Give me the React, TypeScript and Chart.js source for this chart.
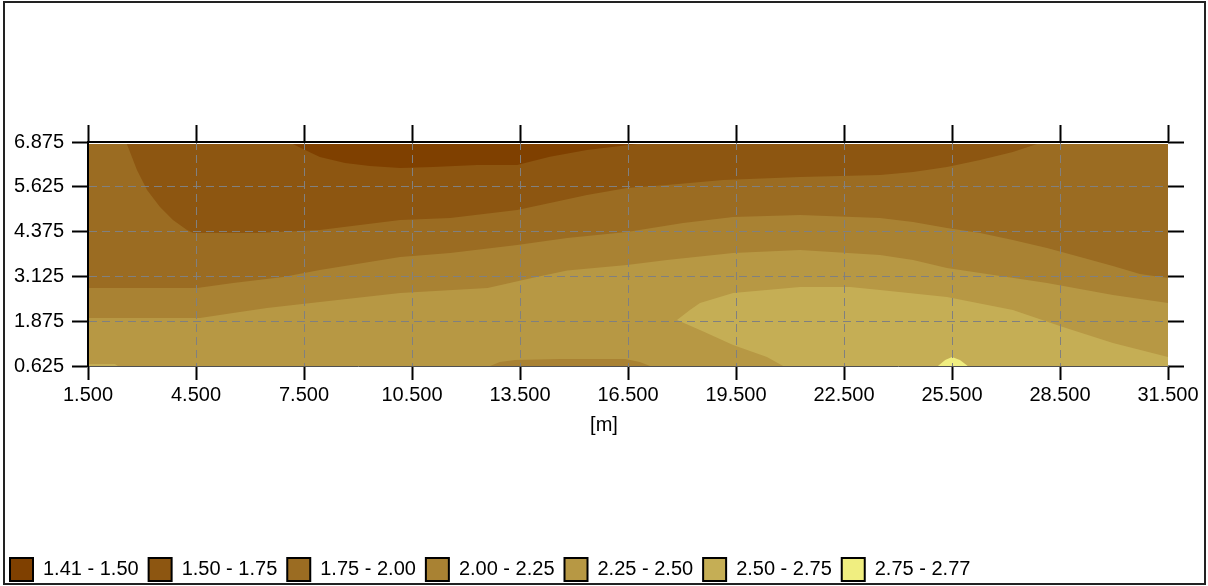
import React, { useEffect, useRef } from 'react';
import { Chart, registerables } from 'chart.js';

Chart.register(...registerables);

const FONT = "'Liberation Sans', Arial, sans-serif";

// Contour bands (legend)
const BAND_LABELS = ['1.41 - 1.50', '1.50 - 1.75', '1.75 - 2.00', '2.00 - 2.25', '2.25 - 2.50', '2.50 - 2.75', '2.75 - 2.77'];
const BAND_COLORS = ['#7f4000', '#8d5611', '#9b6c22', '#a98233', '#b79844', '#c5ae55', '#f0ee80'];

// Axes
const X_TICKS = [1.5, 4.5, 7.5, 10.5, 13.5, 16.5, 19.5, 22.5, 25.5, 28.5, 31.5];
const X_TICK_LABELS = ['1.500', '4.500', '7.500', '10.500', '13.500', '16.500', '19.500', '22.500', '25.500', '28.500', '31.500'];
const Y_TICKS = [0.625, 1.875, 3.125, 4.375, 5.625, 6.875];
const Y_TICK_LABELS = ['0.625', '1.875', '3.125', '4.375', '5.625', '6.875'];
const X_TITLE = '[m]';
const X_MIN = 1.5;
const X_MAX = 31.5;
const Y_MIN = 0.625;
const Y_MAX = 6.875;
const DATA_TOP = 6.82; // top of the interpolated section

// Contour boundaries [x (m), depth value]
// region above each "EDGE" belongs to the band named
const BASE_225_250: [number, number][] = [[1.5, 0.625], [31.5, 0.625]];
const EDGE_200_225: [number, number][] = [
  [1.5, 1.964], [4.61, 1.964], [5.53, 2.104], [6.47, 2.243], [7.94, 2.411], [10.17, 2.662],
  [12.6, 2.8], [13.86, 3.09], [14.81, 3.29], [16.47, 3.443], [17.58, 3.583], [19.42, 3.778],
  [21.28, 3.862], [23.5, 3.722], [24.42, 3.583], [25.36, 3.36], [28.14, 2.941], [29.97, 2.606], [31.5, 2.383],
];
const EDGE_175_200: [number, number][] = [
  [1.5, 2.801], [4.53, 2.801], [5.53, 2.941], [6.92, 3.108], [7.94, 3.304], [10.17, 3.667],
  [11.56, 3.778], [13.42, 4.001], [14.81, 4.197], [16.47, 4.364], [18.03, 4.615], [19.42, 4.783],
  [21.28, 4.838], [23.5, 4.754], [24.42, 4.643], [25.36, 4.475], [26.28, 4.336], [27.19, 4.141],
  [28.14, 3.917], [29.06, 3.666], [29.97, 3.415], [30.72, 3.192], [31.5, 3.08],
];
const EDGE_150_175: [number, number][] = [
  [1.5, 6.82], [2.58, 6.82], [2.86, 6.094], [3.14, 5.536], [3.5, 5.061], [3.86, 4.699], [4.25, 4.42],
  [4.42, 4.336], [6.19, 4.336], [7.94, 4.42], [10.17, 4.699], [11.56, 4.754], [13.42, 4.978],
  [14.33, 5.173], [15.36, 5.396], [16.47, 5.592], [17.58, 5.675], [19.14, 5.815], [21.28, 5.899],
  [23.5, 5.954], [24.42, 6.038], [25.36, 6.177], [26.28, 6.373], [27.19, 6.596], [27.86, 6.82], [31.5, 6.82],
];
const EDGE_141_150: [number, number][] = [
  [7.19, 6.82], [7.53, 6.65], [7.94, 6.456], [8.64, 6.29], [9.33, 6.205], [10.17, 6.15], [11.08, 6.18],
  [12.31, 6.23], [13.42, 6.23], [14.33, 6.46], [15.36, 6.65], [16.75, 6.82],
];
// regions below each curve down to the bottom of the section
const BLOB_250_275: [number, number][] = [
  [17.86, 1.908], [18.22, 2.188], [18.5, 2.383], [19.42, 2.662], [21.28, 2.829], [22.67, 2.829],
  [23.5, 2.745], [25.36, 2.55], [27.19, 2.187], [28.58, 1.713], [29.97, 1.267], [31.5, 0.876],
];
const WEDGE_225_250: [number, number][] = [
  [17.86, 1.908], [18.5, 1.629], [19.42, 1.21], [20.36, 0.876], [20.81, 0.625],
];
const BUMP_200_225: [number, number][] = [
  [12.67, 0.625], [12.94, 0.737], [13.36, 0.79], [14.61, 0.82], [16.42, 0.82], [16.83, 0.737], [17.11, 0.625],
];
const STRIP_250_275: [number, number][] = [[1.5, 0.681], [2.25, 0.681], [2.33, 0.625]];
const SPOT_275_277: [number, number][] = [
  [25.11, 0.625], [25.31, 0.792], [25.5, 0.876], [25.72, 0.792], [25.94, 0.625],
];

const LAYERS: { pts: [number, number][]; band: number; up: boolean }[] = [
  { pts: BASE_225_250, band: 4, up: true },
  { pts: EDGE_200_225, band: 3, up: true },
  { pts: EDGE_175_200, band: 2, up: true },
  { pts: EDGE_150_175, band: 1, up: true },
  { pts: EDGE_141_150, band: 0, up: true },
  { pts: BLOB_250_275, band: 5, up: false },
  { pts: WEDGE_225_250, band: 4, up: false },
  { pts: BUMP_200_225, band: 3, up: false },
  { pts: STRIP_250_275, band: 5, up: false },
  { pts: SPOT_275_277, band: 6, up: false },
];

const tickFont = { family: FONT, size: 20 };

export default function App() {
  const canvasRef = useRef<HTMLCanvasElement | null>(null);

  useEffect(() => {
    document.body.style.margin = '0';
    const canvas = canvasRef.current;
    if (!canvas) return;

    const datasets = LAYERS.map((l, i) => ({
      label: 'layer' + i,
      data: l.pts.map(([x, y]) => ({ x, y })),
      backgroundColor: BAND_COLORS[l.band],
      borderColor: 'rgba(0,0,0,0)',
      borderWidth: 0,
      pointRadius: 0,
      pointHoverRadius: 0,
      tension: 0,
      fill: { value: l.up ? DATA_TOP : Y_MIN },
      order: LAYERS.length - i,
    }));

    const xTitlePlugin = {
      id: 'xTitle',
      afterDraw(chart: any) {
        const ctx = chart.ctx;
        ctx.save();
        ctx.font = `20px ${FONT}`;
        ctx.fillStyle = '#000';
        ctx.textAlign = 'center';
        ctx.textBaseline = 'alphabetic';
        ctx.fillText(X_TITLE, chart.width / 2, 431);
        ctx.restore();
      },
    };

    const setX = (s: any) => { s.ticks = X_TICKS.map((v) => ({ value: v })); };
    const setY = (s: any) => { s.ticks = Y_TICKS.map((v) => ({ value: v })); };
    const edgeHidden = (n: number) => (c: any) =>
      c.index === 0 || c.index === n - 1 ? 'rgba(0,0,0,0)' : '#808080';

    const chart = new Chart(canvas, {
      type: 'line',
      data: { datasets: datasets as any },
      plugins: [xTitlePlugin],
      options: {
        responsive: false,
        animation: false,
        events: [],
        layout: { padding: 0 },
        scales: {
          x: {
            type: 'linear', position: 'bottom', min: X_MIN, max: X_MAX,
            afterBuildTicks: setX,
            afterFit: (s: any) => { s.height = 182; },
            ticks: {
              callback: (_v: any, i: number) => X_TICK_LABELS[i],
              font: tickFont, color: '#000', padding: 3, maxRotation: 0, autoSkip: false,
            },
            grid: {
              z: 1, color: edgeHidden(X_TICKS.length), lineWidth: 1,
              tickLength: 14, tickColor: '#000', tickWidth: 2, tickBorderDash: [],
            },
            border: { display: true, color: '#505050', width: 1, z: 2, dash: [8, 5] },
          },
          x2: {
            type: 'linear', position: 'top', min: X_MIN, max: X_MAX,
            afterBuildTicks: setX,
            afterFit: (s: any) => { s.height = 142; },
            ticks: { display: false },
            grid: {
              z: 1, drawOnChartArea: false, color: '#000',
              tickLength: 17, tickColor: '#000', tickWidth: 2, tickBorderDash: [],
            },
            border: { display: true, color: '#000', width: 2, z: 2 },
          },
          y: {
            type: 'linear', position: 'left', min: Y_MIN, max: Y_MAX,
            afterBuildTicks: setY,
            afterFit: (s: any) => { s.width = 88; },
            ticks: {
              callback: (_v: any, i: number) => Y_TICK_LABELS[i],
              font: tickFont, color: '#000', padding: 8, autoSkip: false,
            },
            grid: {
              z: 1, color: edgeHidden(Y_TICKS.length), lineWidth: 1,
              tickLength: 16, tickColor: '#000', tickWidth: 2, tickBorderDash: [],
            },
            border: { display: true, color: '#000', width: 2, z: 2, dash: [8, 5] },
          },
          y2: {
            type: 'linear', position: 'right', min: Y_MIN, max: Y_MAX,
            afterBuildTicks: setY,
            afterFit: (s: any) => { s.width = 40; },
            ticks: { display: false },
            grid: {
              z: 1, drawOnChartArea: false, color: '#000',
              tickLength: 16, tickColor: '#000', tickWidth: 2, tickBorderDash: [],
            },
            border: { display: false },
          },
        } as any,
        plugins: {
          tooltip: { enabled: false },
          title: { display: false },
          legend: {
            position: 'bottom',
            align: 'start',
            maxHeight: 38,
            onClick: () => {},
            labels: {
              boxWidth: 23,
              boxHeight: 23,
              padding: 10,
              color: '#000',
              font: { family: FONT, size: 20 },
              generateLabels: () =>
                BAND_LABELS.map((t, i) => ({
                  text: t,
                  fillStyle: BAND_COLORS[i],
                  strokeStyle: '#000',
                  lineWidth: 2,
                  hidden: false,
                  datasetIndex: i,
                })) as any,
            },
          } as any,
        },
      },
    });

    return () => chart.destroy();
  }, []);

  return (
    <div style={{ position: 'absolute', left: 0, top: 0, width: 1208, height: 586, background: '#fff' }}>
      <div
        style={{
          position: 'absolute', left: 3, top: 1, width: 1203, height: 584,
          boxSizing: 'border-box', border: '2px solid #222',
        }}
      />
      <canvas
        ref={canvasRef}
        width={1208}
        height={586}
        style={{ position: 'absolute', left: 0, top: 0, width: 1208, height: 586, display: 'block' }}
      />
    </div>
  );
}
